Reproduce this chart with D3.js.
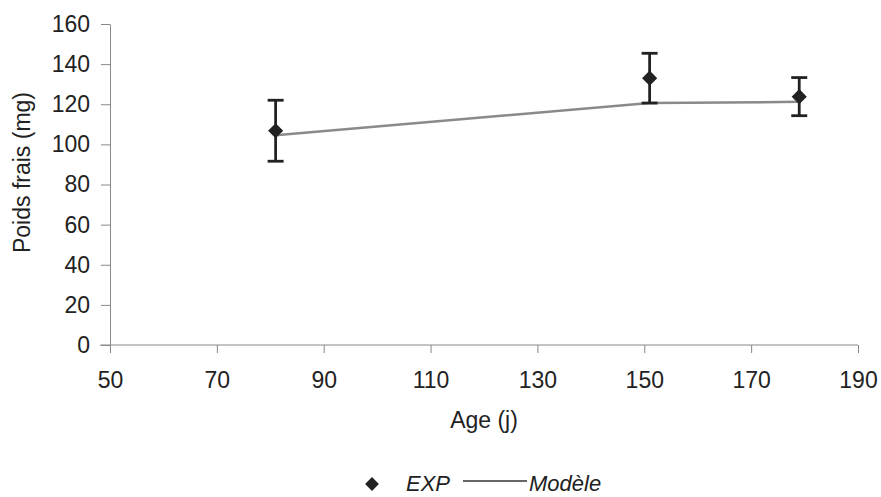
<!DOCTYPE html>
<html><head><meta charset="utf-8">
<script src="https://cdn.jsdelivr.net/npm/d3@7"></script>
<style>body{margin:0;background:#fff}text{font-family:"Liberation Sans",Arial,sans-serif}</style>
</head><body>
<svg id="c" width="881" height="497"></svg>
<script>
const expAge = [81, 151, 179];
const expVal = [106.8, 133, 123.8];
const expErr = [15.2, 12.4, 9.5];
const modAge = [81, 151, 179];
const modVal = [104.6, 120.6, 121.2];
const xTicks = [50, 70, 90, 110, 130, 150, 170, 190];
const yTicks = [0, 20, 40, 60, 80, 100, 120, 140, 160];

const svg = d3.select("#c");
const x = d3.scaleLinear().domain([50, 190]).range([110, 858]);
const y = d3.scaleLinear().domain([0, 160]).range([345, 24]);
const axisColor = "#888";
const fs = "23px";

const gx = svg.append("g").attr("transform", `translate(0,${y(0)})`)
  .call(d3.axisBottom(x).tickValues(xTicks).tickSize(8).tickPadding(19).tickSizeOuter(0));
const gy = svg.append("g").attr("transform", `translate(${x(50)},0)`)
  .call(d3.axisLeft(y).tickValues(yTicks).tickSize(9).tickPadding(11).tickSizeOuter(0));
[gx, gy].forEach(g => {
  g.select(".domain").attr("stroke", axisColor);
  g.selectAll(".tick line").attr("stroke", axisColor);
  g.selectAll(".tick text").attr("fill", "#222").style("font-size", fs);
});
gx.select(".domain").attr("d", `M${x(50)-10},0H${x(190)}`);

svg.append("text").attr("x", 484).attr("y", 428).attr("text-anchor", "middle")
  .style("font-size", fs).attr("fill", "#222").text("Age (j)");
svg.append("text").attr("transform", `translate(30,${(y(0)+y(160))/2 - 12}) rotate(-90)`)
  .attr("text-anchor", "middle").style("font-size", fs).attr("fill", "#222").text("Poids frais (mg)");

// model line
svg.append("path").datum(modAge.map((a, i) => [a, modVal[i]]))
  .attr("d", d3.line().x(d => x(d[0])).y(d => y(d[1])))
  .attr("fill", "none").attr("stroke", "#8a8a8a").attr("stroke-width", 2.5);

// error bars
const eb = svg.append("g").attr("stroke", "#222").attr("stroke-width", 2.8);
expAge.forEach((a, i) => {
  const cx = x(a), t = y(expVal[i] + expErr[i]), b = y(expVal[i] - expErr[i]);
  eb.append("line").attr("x1", cx).attr("x2", cx).attr("y1", t).attr("y2", b);
  eb.append("line").attr("x1", cx - 8).attr("x2", cx + 8).attr("y1", t).attr("y2", t);
  eb.append("line").attr("x1", cx - 8).attr("x2", cx + 8).attr("y1", b).attr("y2", b);
});
// markers
svg.append("g").selectAll("path").data(expAge).join("path")
  .attr("d", d3.symbol().type(d3.symbolSquare).size(115)).attr("fill", "#222")
  .attr("transform", (a, i) => `translate(${x(a)},${y(expVal[i])}) rotate(45)`);

// legend
const lfs = "22px";
const lg = svg.append("g");
lg.append("path").attr("d", d3.symbol().type(d3.symbolSquare).size(95)())
  .attr("transform", "translate(372,484) rotate(45)").attr("fill", "#222");
lg.append("text").attr("x", 406).attr("y", 491).style("font-size", lfs).style("font-style", "italic")
  .attr("fill", "#222").text("EXP");
lg.append("line").attr("x1", 463).attr("x2", 527).attr("y1", 481).attr("y2", 481)
  .attr("stroke", "#333").attr("stroke-width", 1.5);
lg.append("text").attr("x", 529).attr("y", 491).style("font-size", lfs).style("font-style", "italic")
  .attr("fill", "#222").text("Modèle");
</script>
</body></html>
